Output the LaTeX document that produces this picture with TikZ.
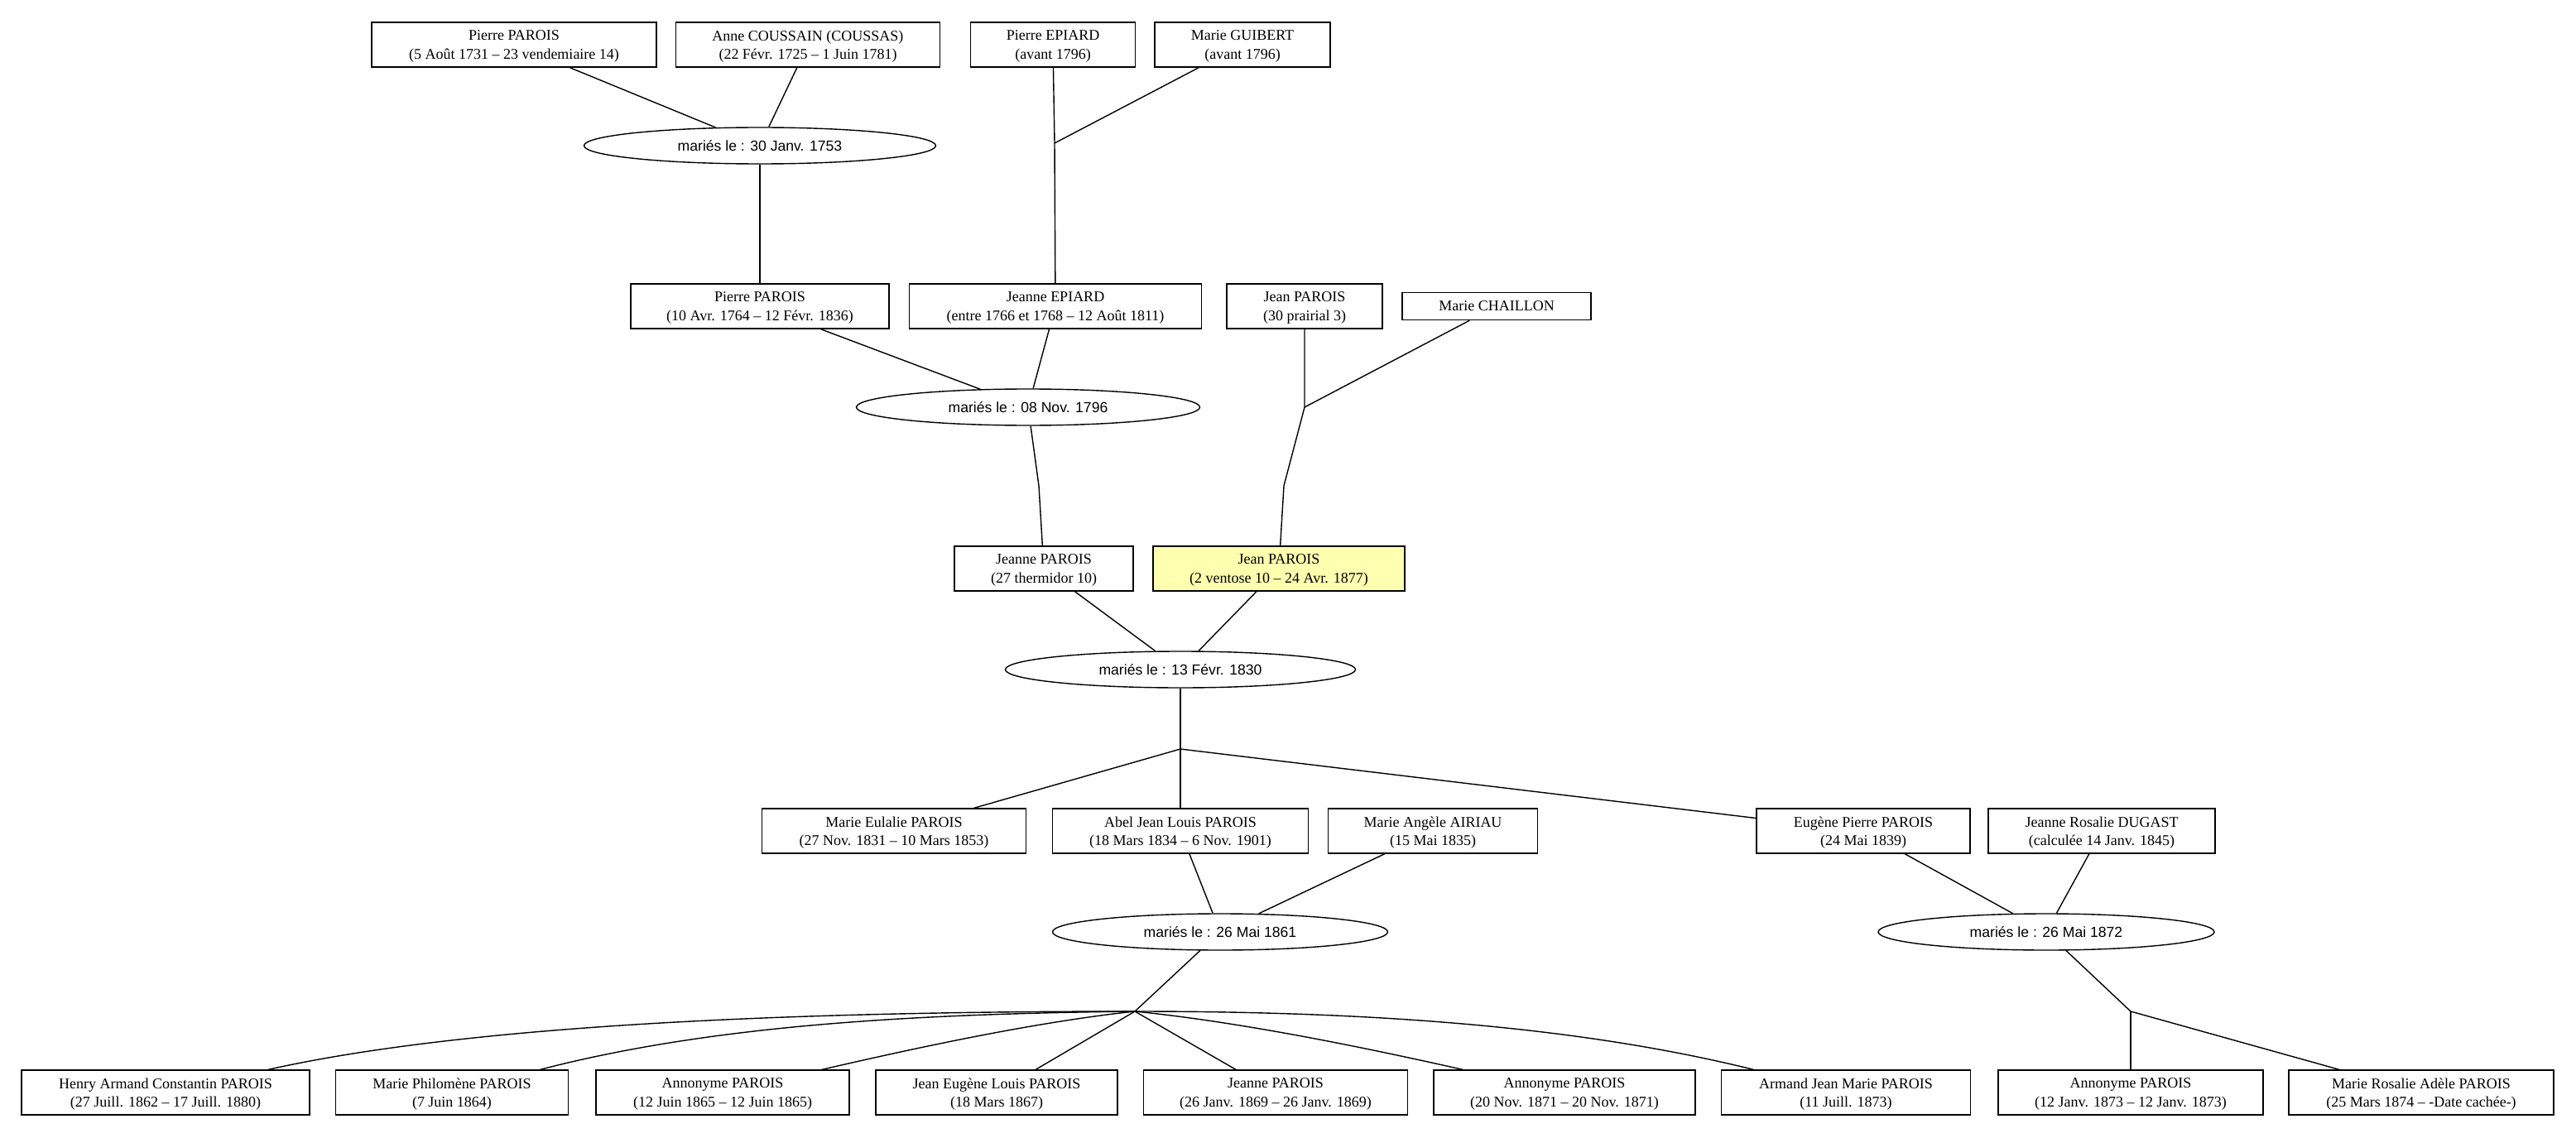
\documentclass[tikz,border=0pt]{standalone}
\usepackage{fontspec}
\setmainfont{Liberation Serif}
\setsansfont{Liberation Sans}
\usepackage{xcolor}
\usepackage{tikz}
\usetikzlibrary{shapes.geometric}
\definecolor{jaune}{RGB}{255,255,176}
\def\largeur{3112}
\def\hauteur{1375}

\begin{document}
\begin{tikzpicture}[x=0.5pt, y=-0.5pt, line width=0.7pt,
	personne/.style={draw, rectangle, align=center, minimum height=27pt, inner sep=0pt, text depth=0pt, font=\fontsize{9}{11.2}\selectfont},
	union/.style={draw, ellipse, minimum height=22pt, inner sep=0pt, font=\sffamily\fontsize{8.8}{11}\selectfont}]
	\useasboundingbox (0,0) rectangle (\largeur,\hauteur);
	%\draw[step=100, line width=0.1pt, black!20!white] (0,0) grid (\largeur,\hauteur);
	% generation 1
	\node[personne, minimum width=172pt] (pp1) at (621,54){Pierre PAROIS\\(5 Août 1731 – 23 vendemiaire 14)};
	\node[personne, minimum width=159.5pt] (ac) at (976,54){Anne COUSSAIN (COUSSAS)\\(22 Févr. 1725 – 1 Juin 1781)};
	\node[personne, minimum width=99.5pt] (pe) at (1272,54){Pierre EPIARD\\(avant 1796)};
	\node[personne, minimum width=106pt] (mg) at (1501,54){Marie GUIBERT\\(avant 1796)};
	\node[union, minimum width=212.5pt] (m1753) at (918,176){mariés le : 30 Janv. 1753};
	\coordinate (j1) at (1274,173);
	% generation 2
	\node[personne, minimum width=156pt] (pp2) at (918,370){Pierre PAROIS\\(10 Avr. 1764 – 12 Févr. 1836)};
	\node[personne, minimum width=176.5pt] (je) at (1275,370){Jeanne EPIARD\\(entre 1766 et 1768 – 12 Août 1811)};
	\node[personne, minimum width=94pt] (jp1) at (1576,370){Jean PAROIS\\(30 prairial 3)};
	\node[personne, minimum width=114pt, minimum height=16.5pt] (mc) at (1808,370){Marie CHAILLON};
	\node[union, minimum width=207.5pt] (m1796) at (1242,492){mariés le : 08 Nov. 1796};
	\coordinate (j2) at (1576,492);
	\coordinate (k1) at (1255,587);
	\coordinate (k2) at (1551,587);
	% generation 3
	\node[personne, minimum width=108pt] (jp2) at (1261,687){Jeanne PAROIS\\(27 thermidor 10)};
	\node[personne, minimum width=152pt, fill=jaune] (jp3) at (1545,687){Jean PAROIS\\(2 ventose 10 – 24 Avr. 1877)};
	\node[union, minimum width=211.5pt] (m1830) at (1426,809){mariés le : 13 Févr. 1830};
	\coordinate (h1) at (1426,905);
	% generation 4
	\node[personne, minimum width=159.5pt] (mep) at (1080,1004){Marie Eulalie PAROIS\\(27 Nov. 1831 – 10 Mars 1853)};
	\node[personne, minimum width=154.5pt] (ajl) at (1426,1004){Abel Jean Louis PAROIS\\(18 Mars 1834 – 6 Nov. 1901)};
	\node[personne, minimum width=126.5pt] (maa) at (1731,1004){Marie Angèle AIRIAU\\(15 Mai 1835)};
	\node[personne, minimum width=129pt] (epp) at (2251,1004){Eugène Pierre PAROIS\\(24 Mai 1839)};
	\node[personne, minimum width=137pt] (jrd) at (2539,1004){Jeanne Rosalie DUGAST\\(calculée 14 Janv. 1845)};
	\node[union, minimum width=202.5pt] (m1861) at (1474,1126){mariés le : 26 Mai 1861};
	\node[union, minimum width=203pt] (m1872) at (2472,1126){mariés le : 26 Mai 1872};
	\coordinate (h2) at (1371,1222);
	\coordinate (h3) at (2574,1222);
	% generation 5
	\node[personne, minimum width=174pt] (hac) at (200,1320){Henry Armand Constantin PAROIS\\(27 Juill. 1862 – 17 Juill. 1880)};
	\node[personne, minimum width=140.5pt] (mph) at (546,1320){Marie Philomène PAROIS\\(7 Juin 1864)};
	\node[personne, minimum width=153pt] (an65) at (873,1320){Annonyme PAROIS\\(12 Juin 1865 – 12 Juin 1865)};
	\node[personne, minimum width=146pt] (jel) at (1204,1320){Jean Eugène Louis PAROIS\\(18 Mars 1867)};
	\node[personne, minimum width=159.5pt] (jnp) at (1541,1320){Jeanne PAROIS\\(26 Janv. 1869 – 26 Janv. 1869)};
	\node[personne, minimum width=158pt] (an71) at (1890,1320){Annonyme PAROIS\\(20 Nov. 1871 – 20 Nov. 1871)};
	\node[personne, minimum width=150.5pt] (ajm) at (2230,1320){Armand Jean Marie PAROIS\\(11 Juill. 1873)};
	\node[personne, minimum width=160pt] (an73) at (2574,1320){Annonyme PAROIS\\(12 Janv. 1873 – 12 Janv. 1873)};
	\node[personne, minimum width=160pt] (mra) at (2925,1320){Marie Rosalie Adèle PAROIS\\(25 Mars 1874 – -Date cachée-)};
	% liens
	\draw (pp1) -- (m1753);
	\draw (ac) -- (m1753);
	\draw (pe) -- (j1) -- (je);
	\draw (mg) -- (j1);
	\draw (m1753) -- (pp2);
	\draw (pp2) -- (m1796);
	\draw (je) -- (m1796);
	\draw (jp1) -- (j2) -- (k2) -- (jp3);
	\draw (mc) -- (j2);
	\draw (m1796) -- (k1) -- (jp2);
	\draw (jp2) -- (m1830);
	\draw (jp3) -- (m1830);
	\draw (m1830) -- (h1);
	\draw (h1) -- (mep);
	\draw (h1) -- (ajl);
	\draw (h1) -- (epp);
	\draw (ajl) -- (m1861);
	\draw (maa) -- (m1861);
	\draw (epp) -- (m1872);
	\draw (jrd) -- (m1872);
	\draw (m1861) -- (h2);
	\draw (m1872) -- (h3);
	\draw (h2) .. controls (950,1222) and (563,1239) .. (hac);
	\draw (h2) .. controls (1100,1225) and (858,1239) .. (mph);
	\draw (h2) .. controls (1250,1235) and (1107,1266) .. (an65);
	\draw (h2) -- (jel);
	\draw (h2) -- (jnp);
	\draw (h2) .. controls (1500,1235) and (1650,1266) .. (an71);
	\draw (h2) .. controls (1650,1222) and (1903,1239) .. (ajm);
	\draw (h3) -- (an73);
	\draw (h3) -- (mra);
\end{tikzpicture}
\end{document}
